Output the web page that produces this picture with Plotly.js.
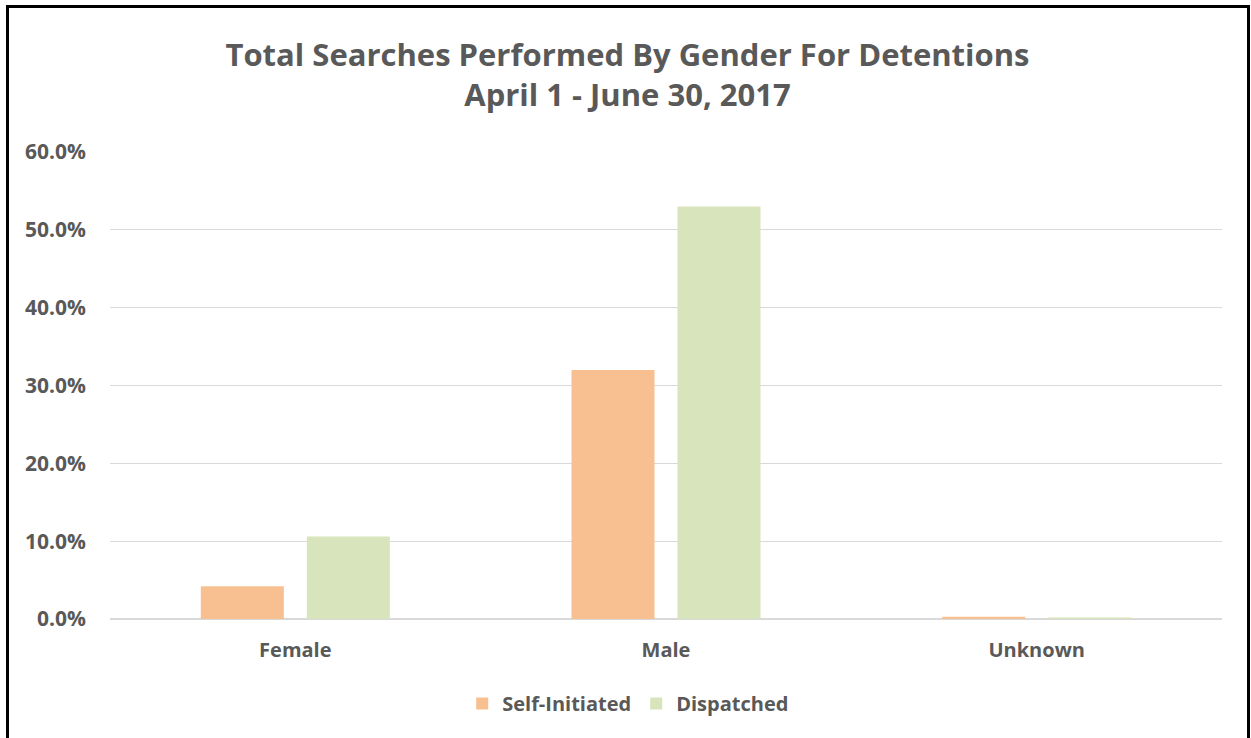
<!DOCTYPE html>
<html>
<head>
<meta charset="utf-8">
<script src="https://cdn.plot.ly/plotly-3.0.1.min.js"></script>
<style>
html,body{margin:0;padding:0;background:#fff;}
#chart{width:1251px;height:738px;}
#frame{position:absolute;left:6px;top:5px;width:1238px;height:800px;border:3px solid #000;pointer-events:none;}
</style>
</head>
<body>
<div id="chart"></div>
<div id="frame"></div>
<script>
const categories = ["Female", "Male", "Unknown"];
const selfInitiated = [0.042, 0.320, 0.003];
const dispatched = [0.106, 0.530, 0.002];
const seriesNames = ["Self-Initiated", "Dispatched"];
const yTickVals = [0, 0.1, 0.2, 0.3, 0.4, 0.5, 0.6];

const fontFam = "'Open Sans', sans-serif";
const gray = "#595959";

const traces = [
  {type:"bar", name:seriesNames[0], x:categories, y:selfInitiated, marker:{color:"#f8c090"}, hoverinfo:"none"},
  {type:"bar", name:seriesNames[1], x:categories, y:dispatched, marker:{color:"#d8e4bc"}, hoverinfo:"none"}
];

const layout = {
  width:1251, height:738,
  paper_bgcolor:"#fff", plot_bgcolor:"#fff",
  margin:{l:110, r:29, t:152, b:118.5},
  barmode:"group", bargap:0.428, bargroupgap:0.217,
  title:{text:"Total Searches Performed By Gender For Detentions<br>April 1 - June 30, 2017",
         x:0.5016, xref:"container", xanchor:"center", y:0.911, yanchor:"middle",
         font:{family:fontFam, size:31, color:gray, weight:"bold"}},
  font:{family:fontFam, color:gray},
  xaxis:{showgrid:false, zeroline:false, showline:false, ticks:"",
         tickfont:{family:fontFam, size:20, color:gray, weight:"bold"}, ticklabelstandoff:17},
  yaxis:{range:[0,0.6], tickvals:yTickVals, tickformat:".1%", showgrid:true, gridcolor:"#d9d9d9", gridwidth:1.3,
         zeroline:true, zerolinecolor:"#d9d9d9", zerolinewidth:1.3, showline:false, ticks:"",
         tickfont:{family:fontFam, size:21, color:gray, weight:"bold"}, ticklabelstandoff:23},
  showlegend:true,
  legend:{orientation:"h", x:0.466, xanchor:"center", y:-0.181, yanchor:"middle",
          font:{family:fontFam, size:20, color:gray, weight:"bold"}, itemwidth:30, traceorder:"normal"}
};

Plotly.newPlot("chart", traces, layout, {displayModeBar:false, staticPlot:true});
</script>
</body>
</html>
